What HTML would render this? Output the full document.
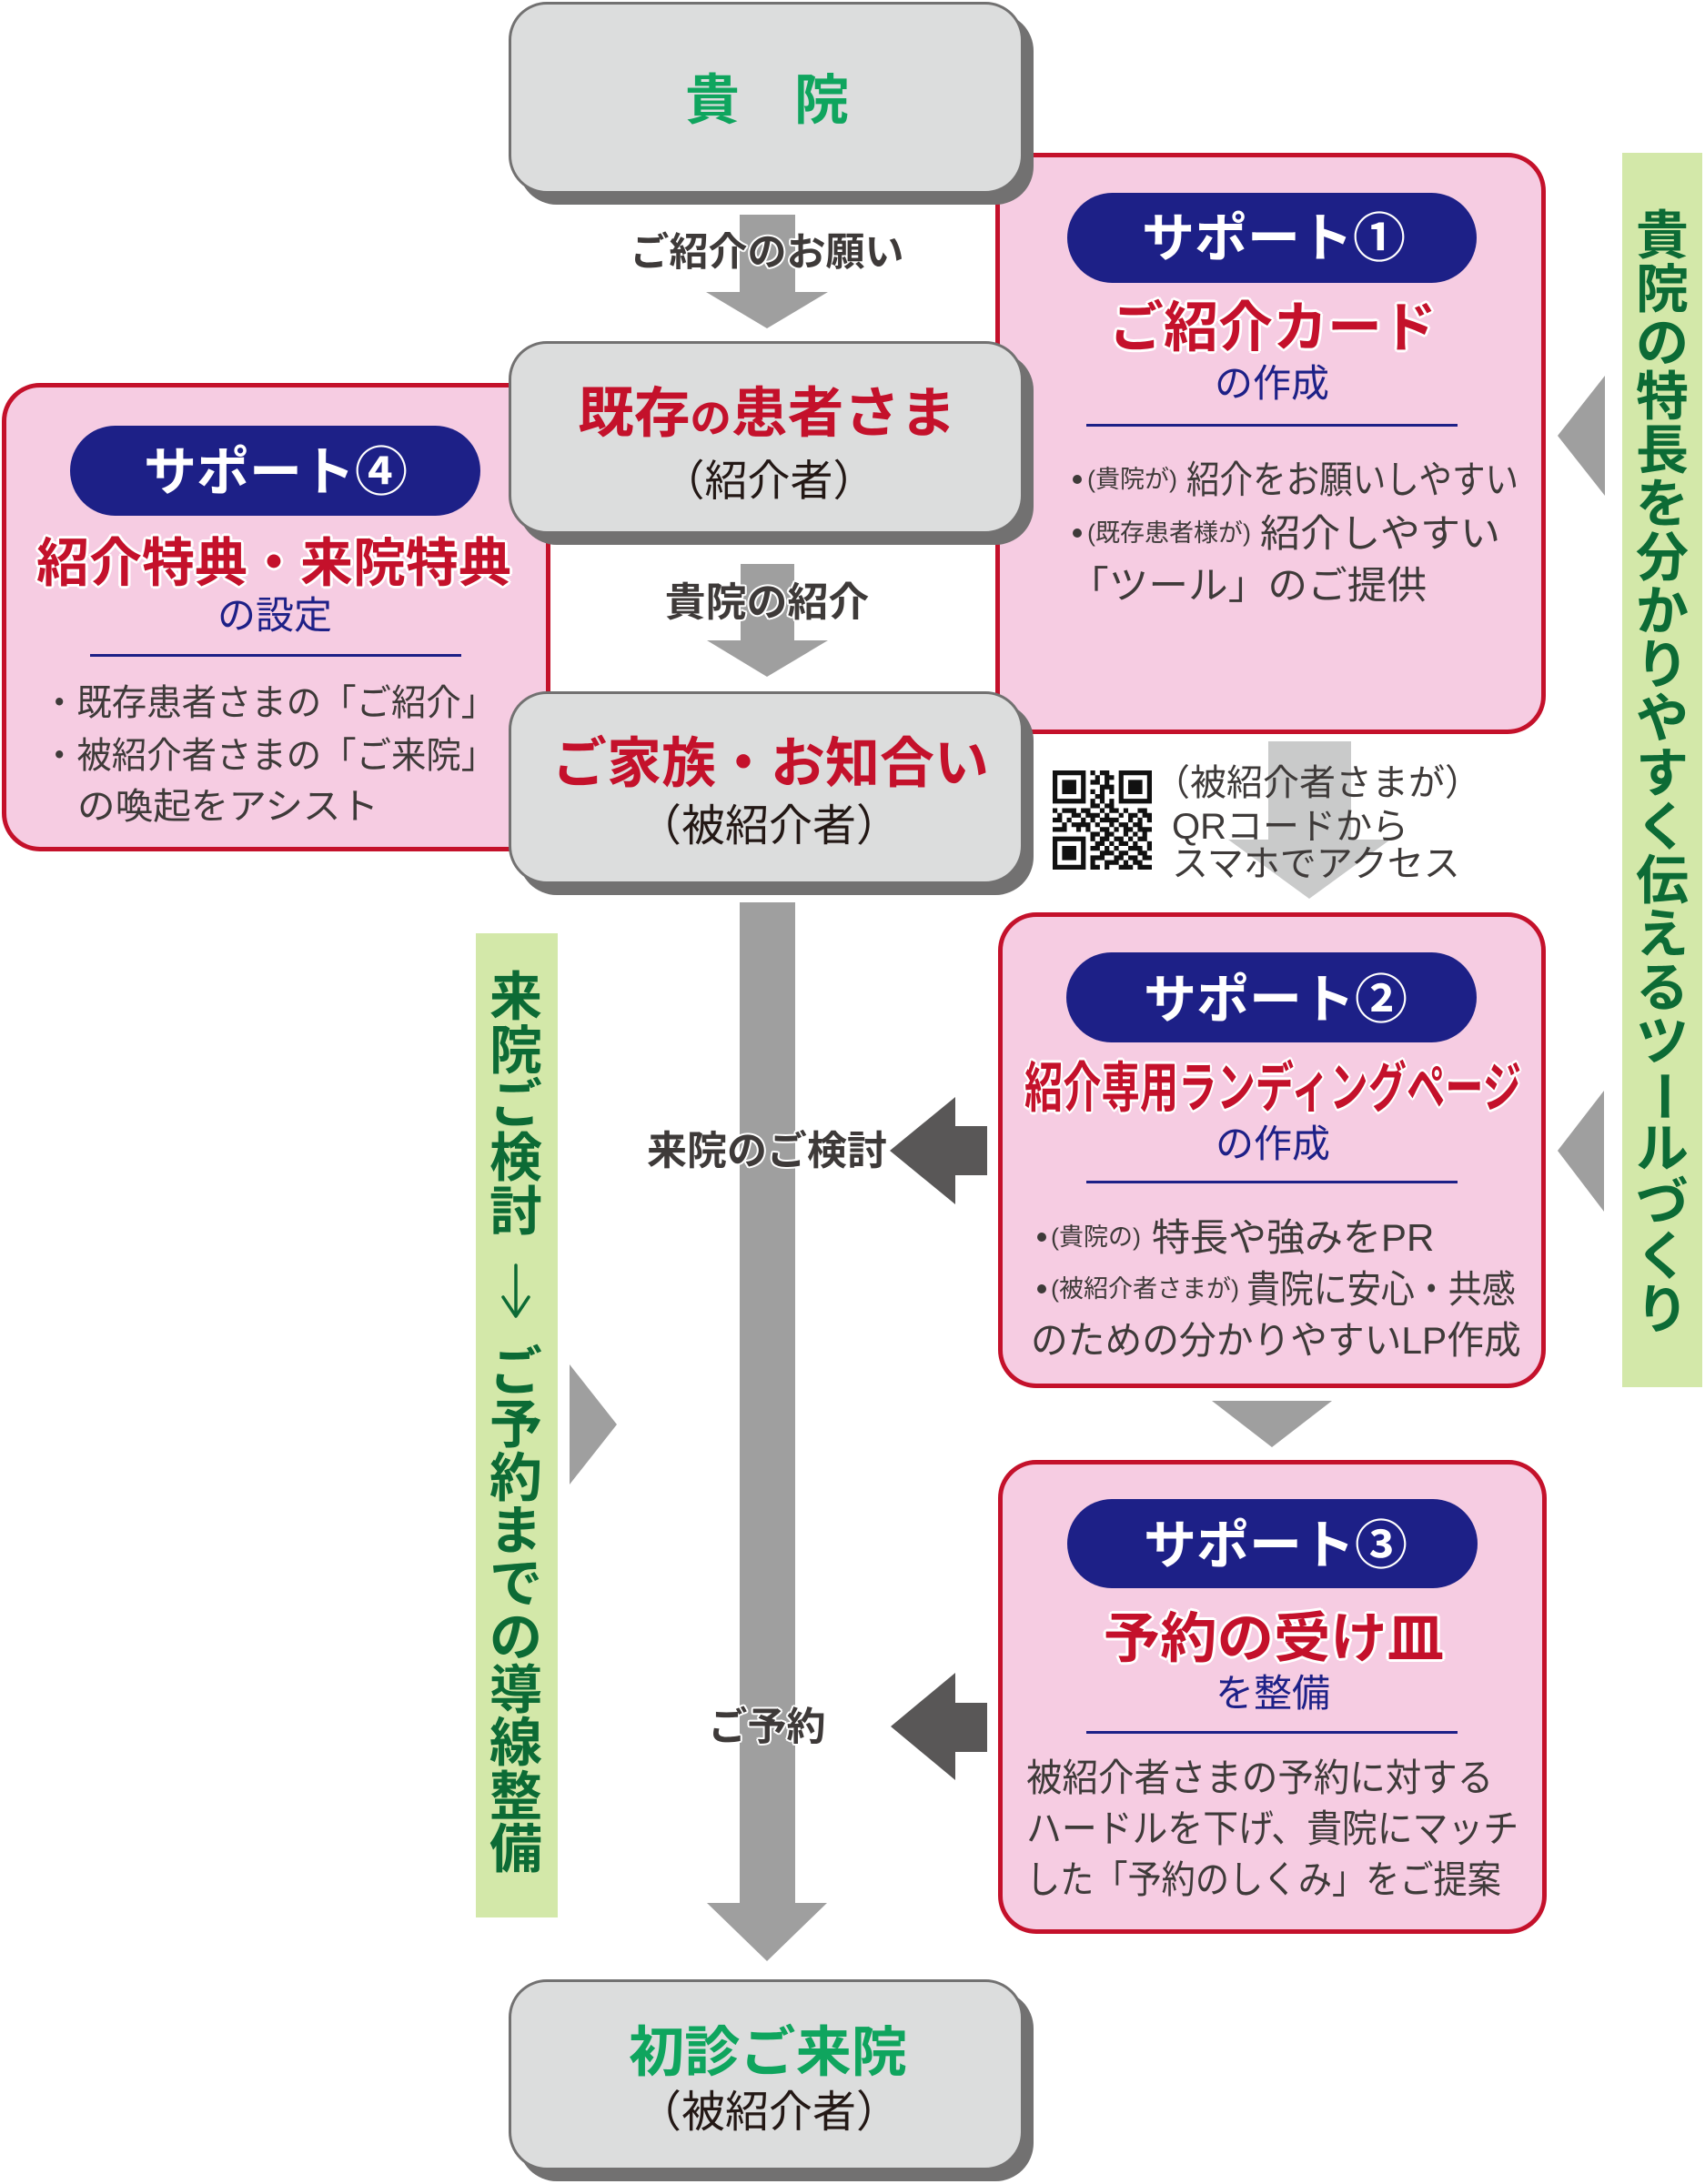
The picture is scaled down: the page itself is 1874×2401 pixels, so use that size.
<!DOCTYPE html>
<html><head><meta charset="utf-8">
<style>
html,body{margin:0;padding:0;background:#fff;}
body{width:1874px;height:2401px;position:relative;overflow:hidden;font-family:"Liberation Sans","Noto Sans CJK JP",sans-serif;}
svg.bg{position:absolute;left:0;top:0;}
.gbox{position:absolute;background:#dcdddd;border:3px solid #727171;border-radius:42px;box-shadow:11px 12px 0 #727171;box-sizing:border-box;}
.sbox{position:absolute;background:#f6cce2;border:5px solid #c4112b;border-radius:42px;box-sizing:border-box;}
.pill{position:absolute;background:#1d2087;border-radius:50px;}
.hl{position:absolute;background:#1d2087;height:3px;}
.dot{position:absolute;width:10px;height:10px;border-radius:50%;background:#3e3a39;}
.t{position:absolute;white-space:nowrap;line-height:1;}
.c{transform-origin:50% 50%;}
.l{transform-origin:0 50%;}
.ro{color:#c4112b;font-weight:700;text-shadow:3px 0 #fff,-3px 0 #fff,0 3px #fff,0 -3px #fff,2px 2px #fff,-2px 2px #fff,2px -2px #fff,-2px -2px #fff;}
.rd{color:#c4112b;font-weight:700;}
.lb{color:#3e3a39;font-weight:700;text-shadow:2px 0 #fff,-2px 0 #fff,0 2px #fff,0 -2px #fff,1.5px 1.5px #fff,-1.5px 1.5px #fff,1.5px -1.5px #fff,-1.5px -1.5px #fff;}
.wt{color:#fff;font-weight:700;}
.nv{color:#1d2087;}
.bd{color:#3e3a39;}
.bk{color:#231815;}
.gr{color:#0fa55e;font-weight:700;}
.vc{position:absolute;width:58px;text-align:center;font-size:58px;line-height:1;color:#0c6b35;font-weight:700;}
</style></head>
<body>

<svg class="bg" width="1874" height="2401" viewBox="0 0 1874 2401">
  <rect x="1783" y="168" width="88" height="1357" fill="#d3e8a9"/>
  <rect x="523" y="1026" width="90" height="1082" fill="#d3e8a9"/>
  <polygon points="1764,413 1764,545 1712,479" fill="#9f9f9f"/>
  <polygon points="1763,1199 1763,1332 1712,1265" fill="#9f9f9f"/>
  <polygon points="626,1500 626,1632 678,1566" fill="#9f9f9f"/>
  <polygon points="1332,1540 1464,1540 1398,1591" fill="#9f9f9f"/>
  <polygon points="813,236 874,236 874,321 910,321 843,361 776,321 813,321" fill="#9f9f9f"/>
  <polygon points="814,620 873,620 873,704 910,704 843,744 777,704 814,704" fill="#9f9f9f"/>
  <polygon points="813,992 874,992 874,2092 909,2092 843,2156 777,2092 813,2092" fill="#9f9f9f"/>
  <polygon points="1394,815 1485,815 1485,923 1528,923 1439,988 1350,923 1394,923" fill="#c9caca"/>
  <polygon points="1085,1238 1085,1292 1050,1292 1050,1324 978,1265 1050,1206 1050,1238" fill="#595757"/>
  <polygon points="1085,1872 1085,1926 1050,1926 1050,1957 979,1898 1050,1839 1050,1872" fill="#595757"/>
  <!-- down arrow in left bar -->
  <g stroke="#0c6b35" stroke-width="3.5" fill="none" stroke-linecap="round" stroke-linejoin="round">
    <line x1="567" y1="1391" x2="567" y2="1446"/>
    <polyline points="553,1426 567,1447 581,1426"/>
  </g>
  <g transform="translate(1157,847) scale(5.19)" fill="#111">
    <path d="M0 0h7v1h-7zM8 0h1v1h-1zM10 0h2v1h-2zM14 0h7v1h-7z
M0 1h1v1h-1zM6 1h1v1h-1zM9 1h1v1h-1zM11 1h2v1h-2zM14 1h1v1h-1zM20 1h1v1h-1z
M0 2h1v1h-1zM2 2h3v1h-3zM6 2h1v1h-1zM8 2h2v1h-2zM11 2h1v1h-1zM14 2h1v1h-1zM16 2h3v1h-3zM20 2h1v1h-1z
M0 3h1v1h-1zM2 3h3v1h-3zM6 3h1v1h-1zM10 3h3v1h-3zM14 3h1v1h-1zM16 3h3v1h-3zM20 3h1v1h-1z
M0 4h1v1h-1zM2 4h3v1h-3zM6 4h1v1h-1zM8 4h1v1h-1zM10 4h1v1h-1zM12 4h1v1h-1zM14 4h1v1h-1zM16 4h3v1h-3zM20 4h1v1h-1z
M0 5h1v1h-1zM6 5h1v1h-1zM9 5h2v1h-2zM14 5h1v1h-1zM20 5h1v1h-1z
M0 6h7v1h-7zM8 6h1v1h-1zM10 6h1v1h-1zM12 6h1v1h-1zM14 6h7v1h-7z
M8 7h2v1h-2zM11 7h2v1h-2z
M0 8h1v1h-1zM2 8h3v1h-3zM6 8h2v1h-2zM10 8h1v1h-1zM12 8h2v1h-2zM15 8h1v1h-1zM18 8h2v1h-2z
M1 9h1v1h-1zM4 9h2v1h-2zM7 9h3v1h-3zM11 9h1v1h-1zM14 9h1v1h-1zM16 9h2v1h-2zM19 9h2v1h-2z
M0 10h2v1h-2zM3 10h1v1h-1zM6 10h1v1h-1zM8 10h1v1h-1zM10 10h4v1h-4zM16 10h1v1h-1zM18 10h1v1h-1zM20 10h1v1h-1z
M2 11h1v1h-1zM4 11h4v1h-4zM9 11h1v1h-1zM12 11h1v1h-1zM14 11h2v1h-2zM17 11h2v1h-2z
M0 12h3v1h-3zM5 12h1v1h-1zM7 12h1v1h-1zM10 12h2v1h-2zM13 12h1v1h-1zM15 12h2v1h-2zM18 12h3v1h-3z
M8 13h2v1h-2zM11 13h2v1h-2zM15 13h1v1h-1zM17 13h1v1h-1zM19 13h1v1h-1z
M0 14h7v1h-7zM8 14h1v1h-1zM10 14h2v1h-2zM13 14h2v1h-2zM16 14h1v1h-1zM18 14h2v1h-2z
M0 15h1v1h-1zM6 15h1v1h-1zM9 15h2v1h-2zM12 15h1v1h-1zM14 15h2v1h-2zM17 15h1v1h-1zM20 15h1v1h-1z
M0 16h1v1h-1zM2 16h3v1h-3zM6 16h1v1h-1zM8 16h2v1h-2zM11 16h1v1h-1zM13 16h1v1h-1zM16 16h3v1h-3zM20 16h1v1h-1z
M0 17h1v1h-1zM2 17h3v1h-3zM6 17h1v1h-1zM10 17h3v1h-3zM14 17h2v1h-2zM18 17h2v1h-2z
M0 18h1v1h-1zM2 18h3v1h-3zM6 18h1v1h-1zM8 18h3v1h-3zM13 18h2v1h-2zM16 18h2v1h-2zM19 18h2v1h-2z
M0 19h1v1h-1zM6 19h1v1h-1zM8 19h1v1h-1zM11 19h3v1h-3zM15 19h1v1h-1zM17 19h2v1h-2z
M0 20h7v1h-7zM8 20h2v1h-2zM11 20h1v1h-1zM14 20h3v1h-3zM18 20h3v1h-3z"/>
  </g>
</svg>

<div class="sbox" style="left:2px;top:421px;width:603px;height:515px;"></div>
<div class="sbox" style="left:1094px;top:168px;width:605px;height:639px;"></div>
<div class="sbox" style="left:1097px;top:1003px;width:602px;height:523px;"></div>
<div class="sbox" style="left:1097px;top:1605px;width:603px;height:521px;"></div>

<div class="gbox" style="left:559px;top:2px;width:566px;height:211px;"></div>
<div class="gbox" style="left:559px;top:375px;width:566px;height:212px;"></div>
<div class="gbox" style="left:559px;top:760px;width:566px;height:212px;"></div>
<div class="gbox" style="left:559px;top:2176px;width:566px;height:210px;"></div>

<div class="pill" style="left:77px;top:468px;width:451px;height:99px;"></div>
<div class="pill" style="left:1173px;top:212px;width:450px;height:99px;"></div>
<div class="pill" style="left:1172px;top:1047px;width:451px;height:99px;"></div>
<div class="pill" style="left:1173px;top:1648px;width:451px;height:98px;"></div>

<div class="hl" style="left:99px;top:719px;width:408px;"></div>
<div class="hl" style="left:1194px;top:466px;width:408px;"></div>
<div class="hl" style="left:1194px;top:1298px;width:408px;"></div>
<div class="hl" style="left:1194px;top:1903px;width:408px;"></div>

<div class="dot" style="left:1179px;top:522px;"></div>
<div class="dot" style="left:1179px;top:581px;"></div>
<div class="dot" style="left:1140px;top:1355px;"></div>
<div class="dot" style="left:1140px;top:1412px;"></div>

<div class="t c gr" style="left:843px;top:81px;font-size:60px;transform:translateX(-50%);">貴　院</div>
<div class="t c lb" style="left:843px;top:257px;font-size:43px;transform:translateX(-50%);">ご紹介のお願い</div>
<div class="t c rd" style="left:843px;top:425px;font-size:60px;transform:translateX(-50%) scaleX(1.03);">既存<span style="font-size:44px;">の</span>患者さま</div>
<div class="t c bk" style="left:845px;top:505px;font-size:47px;transform:translateX(-50%);">（紹介者）</div>
<div class="t c lb" style="left:843px;top:641px;font-size:44px;transform:translateX(-50%) scaleX(1.02);">貴院の紹介</div>
<div class="t c rd" style="left:847px;top:810px;font-size:60px;transform:translateX(-50%);">ご家族・お知合い</div>
<div class="t c bk" style="left:845px;top:885px;font-size:48px;transform:translateX(-50%);">（被紹介者）</div>
<div class="t c lb" style="left:843px;top:1244px;font-size:44px;transform:translateX(-50%);">来院のご検討</div>
<div class="t c lb" style="left:843px;top:1878px;font-size:43px;transform:translateX(-50%);">ご予約</div>
<div class="t c gr" style="left:844px;top:2227px;font-size:60px;transform:translateX(-50%) scaleX(1.02);">初診ご来院</div>
<div class="t c bk" style="left:845px;top:2299px;font-size:48px;transform:translateX(-50%);">（被紹介者）</div>

<div class="t c wt" style="left:303px;top:491px;font-size:58px;transform:translateX(-50%);">サポート④</div>
<div class="t c ro" style="left:301px;top:591px;font-size:58px;transform:translateX(-50%);">紹介特典・来院特典</div>
<div class="t c nv" style="left:302px;top:656px;font-size:42px;transform:translateX(-50%);">の設定</div>
<div class="t l bd" style="left:46px;top:753px;font-size:40px;transform:scaleX(0.96);">・既存患者さまの「ご紹介」</div>
<div class="t l bd" style="left:46px;top:811px;font-size:40px;transform:scaleX(0.96);">・被紹介者さまの「ご来院」</div>
<div class="t l bd" style="left:85px;top:867px;font-size:40px;transform:scaleX(1.04);">の喚起をアシスト</div>

<div class="t c wt" style="left:1400px;top:234px;font-size:58px;transform:translateX(-50%);">サポート①</div>
<div class="t c ro" style="left:1399px;top:331px;font-size:60px;transform:translateX(-50%);">ご紹介カード</div>
<div class="t c nv" style="left:1398px;top:401px;font-size:42px;transform:translateX(-50%);">の作成</div>
<div class="t l bd" style="left:1195px;top:514px;font-size:27px;">(貴院が)</div>
<div class="t l bd" style="left:1304px;top:507px;font-size:42px;transform:scaleX(0.87);">紹介をお願いしやすい</div>
<div class="t l bd" style="left:1195px;top:573px;font-size:27px;">(既存患者様が)</div>
<div class="t l bd" style="left:1385px;top:566px;font-size:42px;transform:scaleX(1.05);">紹介しやすい</div>
<div class="t l bd" style="left:1175px;top:623px;font-size:42px;transform:scaleX(1.04);">「ツール」のご提供</div>

<div class="t l bd" style="left:1268px;top:841px;font-size:40px;">（被紹介者さまが）</div>
<div class="t l bd" style="left:1288px;top:889px;font-size:40px;">QRコードから</div>
<div class="t l bd" style="left:1288px;top:930px;font-size:40px;">スマホでアクセス</div>

<div class="t c wt" style="left:1402px;top:1071px;font-size:58px;transform:translateX(-50%);">サポート②</div>
<div class="t c ro" style="left:1399px;top:1167px;font-size:60px;transform:translateX(-50%) scaleX(0.705);">紹介専用ランディングページ</div>
<div class="t c nv" style="left:1399px;top:1237px;font-size:42px;transform:translateX(-50%);">の作成</div>
<div class="t l bd" style="left:1155px;top:1347px;font-size:27px;">(貴院の)</div>
<div class="t l bd" style="left:1266px;top:1340px;font-size:42px;">特長や強みをPR</div>
<div class="t l bd" style="left:1155px;top:1404px;font-size:27px;">(被紹介者さまが)</div>
<div class="t l bd" style="left:1370px;top:1397px;font-size:42px;transform:scaleX(0.88);">貴院に安心・共感</div>
<div class="t l bd" style="left:1133px;top:1453px;font-size:42px;transform:scaleX(0.97);">のための分かりやすいLP作成</div>

<div class="t c wt" style="left:1402px;top:1671px;font-size:58px;transform:translateX(-50%);">サポート③</div>
<div class="t c ro" style="left:1400px;top:1772px;font-size:60px;transform:translateX(-50%) scaleX(1.04);">予約の受け皿</div>
<div class="t c nv" style="left:1399px;top:1841px;font-size:42px;transform:translateX(-50%);">を整備</div>
<div class="t l bd" style="left:1128px;top:1934px;font-size:42px;transform:scaleX(0.94);">被紹介者さまの予約に対する</div>
<div class="t l bd" style="left:1128px;top:1990px;font-size:42px;transform:scaleX(0.925);">ハードルを下げ、貴院にマッチ</div>
<div class="t l bd" style="left:1128px;top:2046px;font-size:42px;transform:scaleX(0.885);">した「予約のしくみ」をご提案</div>

<div class="vc" style="left:1798px;top:231px;">貴</div>
<div class="vc" style="left:1798px;top:290px;">院</div>
<div class="vc" style="left:1798px;top:349px;">の</div>
<div class="vc" style="left:1798px;top:408px;">特</div>
<div class="vc" style="left:1798px;top:467px;">長</div>
<div class="vc" style="left:1798px;top:526px;">を</div>
<div class="vc" style="left:1798px;top:585px;">分</div>
<div class="vc" style="left:1798px;top:644px;">か</div>
<div class="vc" style="left:1798px;top:703px;">り</div>
<div class="vc" style="left:1798px;top:762px;">や</div>
<div class="vc" style="left:1798px;top:822px;">す</div>
<div class="vc" style="left:1798px;top:881px;">く</div>
<div class="vc" style="left:1798px;top:940px;">伝</div>
<div class="vc" style="left:1798px;top:999px;">え</div>
<div class="vc" style="left:1798px;top:1058px;">る</div>
<div class="vc" style="left:1798px;top:1117px;">ツ</div>
<div class="vc" style="left:1798px;top:1176px;transform:rotate(90deg);">ー</div>
<div class="vc" style="left:1798px;top:1235px;">ル</div>
<div class="vc" style="left:1798px;top:1294px;">づ</div>
<div class="vc" style="left:1798px;top:1353px;">く</div>
<div class="vc" style="left:1798px;top:1412px;">り</div>

<div class="vc" style="left:538px;top:1068px;">来</div>
<div class="vc" style="left:538px;top:1127px;">院</div>
<div class="vc" style="left:538px;top:1186px;">ご</div>
<div class="vc" style="left:538px;top:1245px;">検</div>
<div class="vc" style="left:538px;top:1304px;">討</div>
<div class="vc" style="left:538px;top:1480px;">ご</div>
<div class="vc" style="left:538px;top:1538px;">予</div>
<div class="vc" style="left:538px;top:1597px;">約</div>
<div class="vc" style="left:538px;top:1655px;">ま</div>
<div class="vc" style="left:538px;top:1713px;">で</div>
<div class="vc" style="left:538px;top:1772px;">の</div>
<div class="vc" style="left:538px;top:1830px;">導</div>
<div class="vc" style="left:538px;top:1888px;">線</div>
<div class="vc" style="left:538px;top:1947px;">整</div>
<div class="vc" style="left:538px;top:2005px;">備</div>

</body></html>
